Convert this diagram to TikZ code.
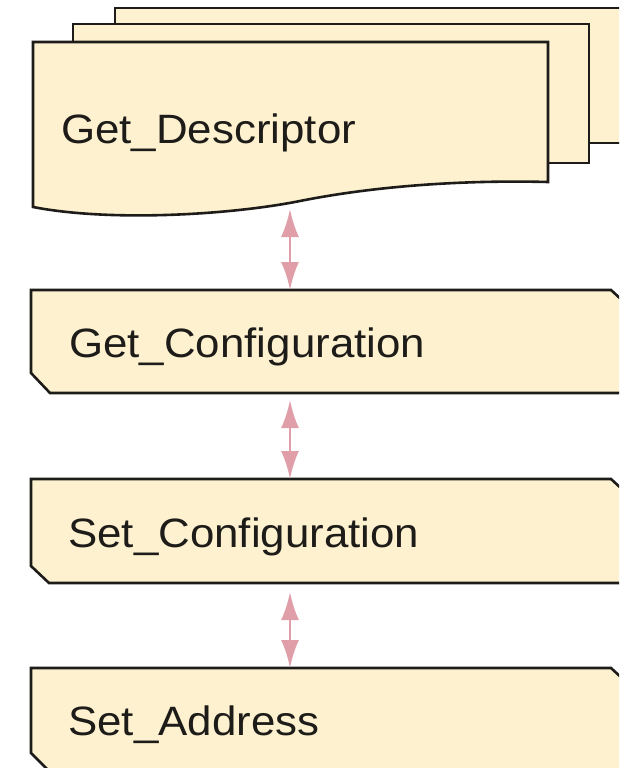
\documentclass[tikz,border=0pt]{standalone}
\usepackage{fontspec}
\setmainfont{Liberation Sans}[FakeStretch=1.07]
\usetikzlibrary{arrows.meta}
\definecolor{paper}{RGB}{253,241,208}
\definecolor{edge}{RGB}{30,28,25}
\definecolor{link}{RGB}{224,158,168}
\begin{document}
\begin{tikzpicture}[x=1pt,y=-1pt,
  sheet/.style={fill=paper,draw=edge,line width=2.6pt,line join=miter},
  label/.style={anchor=base west,inner sep=0pt,text=edge,
                font=\fontsize{41}{49}\selectfont},
  linkarrow/.style={draw=link,line width=2.8pt,
                    {Latex[length=28pt,width=18pt,fill=link]}-{Latex[length=28pt,width=18pt,fill=link]}}]
\useasboundingbox (0,0) rectangle (619,768);
\fill[white] (0,0) rectangle (619,768);
\begin{scope}
\clip (0,0) rectangle (619,768);

% stacked document: two sheets behind the front one
\draw[sheet] (115,8) rectangle (640,143);
\draw[sheet] (73,24) rectangle (589,163);
% front sheet with wavy lower edge
\draw[sheet] (33,42) -- (548,42) -- (548,182)
  .. controls (470,180) and (380,185) .. (300,201)
  .. controls (230,215) and (110,222) .. (33,207) -- cycle;
\node[label] (gd) at (61,143) {Get\_Descriptor};
\coordinate (gd-s) at (290,209);

% step boxes: chamfered lower-left and upper-right corners
\draw[sheet] (31,290) -- (611,290) -- (624,302) -- (624,393) -- (50,393) -- (31,373) -- cycle;
\node[label] (gc) at (69,357) {Get\_Configuration};
\coordinate (gc-n) at (290,290);
\coordinate (gc-s) at (290,400);

\draw[sheet] (31,479) -- (611,479) -- (624,491) -- (624,583) -- (49,583) -- (31,566) -- cycle;
\node[label] (scf) at (68,547) {Set\_Configuration};
\coordinate (sc-n) at (290,479);
\coordinate (sc-s) at (290,592);

\draw[sheet] (31,668) -- (611,668) -- (624,680) -- (624,772) -- (50,772) -- (31,753) -- cycle;
\node[label] (sa) at (68,735) {Set\_Address};
\coordinate (sa-n) at (290,668);

% two-way links between the steps
\draw[linkarrow] (gd-s) -- (gc-n);
\draw[linkarrow] (gc-s) -- (sc-n);
\draw[linkarrow] (sc-s) -- (sa-n);
\end{scope}
\end{tikzpicture}
\end{document}
